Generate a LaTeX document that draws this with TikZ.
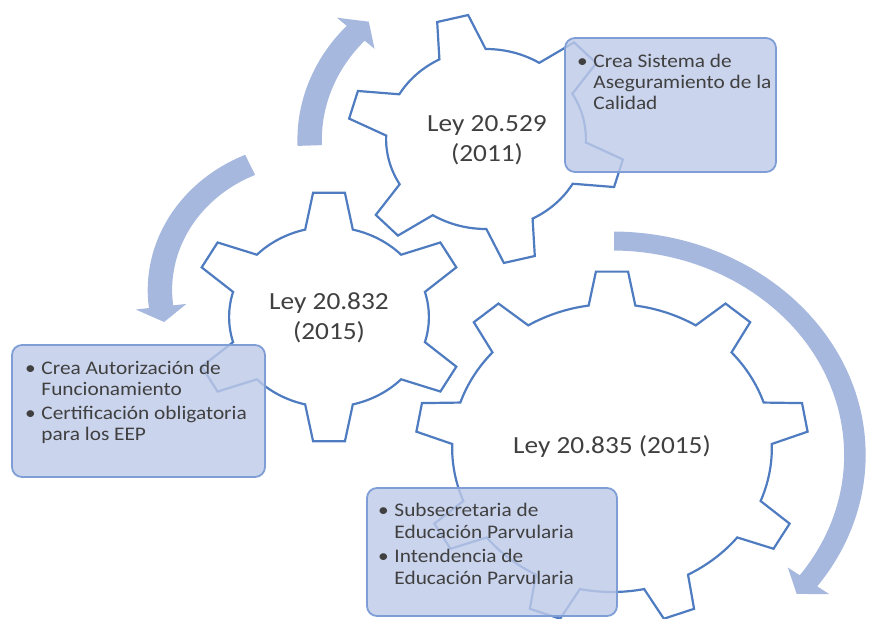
\documentclass[tikz,border=0pt]{standalone}
\usepackage{fontspec}
\setmainfont{Carlito}
\definecolor{gearblue}{RGB}{79,124,192}
\definecolor{arrowblue}{RGB}{166,184,222}
\definecolor{boxfill}{RGB}{190,202,232}
\definecolor{boxline}{RGB}{128,158,214}
\definecolor{txt}{RGB}{64,64,64}
\tikzset{
  gearline/.style={draw=gearblue, line width=1.1pt, fill=white, line join=miter},
  arrowband/.style={fill=arrowblue, draw=none},
  infobox/.style={draw=boxline, line width=0.9pt, fill=boxfill, fill opacity=0.82, rounded corners=5pt},
  geartext/.style={text=txt, inner sep=0pt, font=\fontsize{12.3}{15}\selectfont},
  boxtext/.style={text=txt, anchor=north west, inner sep=0pt},
}
% #1 centre, #2 teeth, #3 root radius, #4 tip radius, #5 tip half angle, #6 base half angle, #7 first tooth angle
\newcommand\drawgear[7]{%
  \begin{scope}[shift={#1}, xscale=1.11, yscale=-1]
    \filldraw[gearline] ({#7-#6}:#3)
      \foreach \k in {1,...,#2}{
        -- ({#7+(\k-1)*360/#2-#5}:#4) -- ({#7+(\k-1)*360/#2+#5}:#4)
        -- ({#7+(\k-1)*360/#2+#6}:#3)
        arc[start angle={#7+(\k-1)*360/#2+#6}, end angle={#7+\k*360/#2-#6}, radius=#3]
      } -- cycle;
  \end{scope}}
% #1 centre, #2 xscale, #3 radius, #4 half width, #5 head half width, #6 tail angle, #7 barb angle, #8 tip angle
\newcommand\drawarrowband[8]{%
  \begin{scope}[shift={#1}, xscale=#2, yscale=-1]
    \fill[arrowband] (#6:{#3+#4}) arc[start angle=#6, end angle=#7, radius={#3+#4}]
      -- (#7:{#3+#5}) -- (#8:#3) -- (#7:{#3-#5}) -- (#7:{#3-#4})
      arc[start angle=#7, end angle=#6, radius={#3-#4}] -- cycle;
  \end{scope}}
\begin{document}
\begin{tikzpicture}[x=0.5pt, y=-0.5pt]
  \path[use as bounding box] (0,0) rectangle (869,618);
  \clip (0,0) rectangle (869,618);
  % gears
  \drawgear{(612,448)}{9}{144}{177}{4.7}{8.4}{90}
  \drawgear{(329,317)}{6}{90}{125}{6.6}{13.8}{90}
  \drawgear{(486,139)}{6}{90}{125}{6.6}{13.8}{104}
  % circular arrows
  \drawarrowband{(485,140)}{1.11}{158}{11}{23}{182}{137.5}{131.5}
  \drawarrowband{(312,290)}{1.11}{137}{11}{23}{114}{187}{193.5}
  \drawarrowband{(612,455)}{1.135}{214}{9.5}{22.5}{89.5}{-36}{-40.5}
  % gear labels
  \node[geartext] (g1) at (487,140) {\scalebox{1.11}[1]{\begin{tabular}{@{}c@{}}Ley 20.529\\(2011)\end{tabular}}};
  \node[geartext] (g2) at (329,318) {\scalebox{1.11}[1]{\begin{tabular}{@{}c@{}}Ley 20.832\\(2015)\end{tabular}}};
  \node[geartext] (g3) at (612,447) {\scalebox{1.11}[1]{\begin{tabular}{@{}c@{}}Ley 20.835 (2015)\end{tabular}}};
  % boxes
  \draw[infobox] (565,38) rectangle (776,172);
  \draw[infobox] (12,345) rectangle (265,477);
  \draw[infobox] (367,488) rectangle (617,616);
  \node[boxtext] (ta) at (576.7,52) {\scalebox{1.11}[1]{\fontsize{9.6}{10.5}\selectfont
    \begin{tabular}{@{}l@{\hspace{2.6pt}}l@{}}
      \textbullet & Crea Sistema de\\
                  & Aseguramiento de la\\
                  & Calidad
    \end{tabular}}};
  \node[boxtext] (tb) at (24.7,360) {\scalebox{1.11}[1]{\fontsize{9.6}{10.25}\selectfont
    \begin{tabular}{@{}l@{\hspace{2.6pt}}l@{}}
      \textbullet & Crea Autorización de\\
                  & Funcionamiento\\[2pt]
      \textbullet & Certificación obligatoria\\
                  & para los EEP
    \end{tabular}}};
  \node[boxtext] (tc) at (377.7,501) {\scalebox{1.11}[1]{\fontsize{9.6}{11}\selectfont
    \begin{tabular}{@{}l@{\hspace{2.6pt}}l@{}}
      \textbullet & Subsecretaria de\\
                  & Educación Parvularia\\[1pt]
      \textbullet & Intendencia de\\
                  & Educación Parvularia
    \end{tabular}}};
\end{tikzpicture}
\end{document}
